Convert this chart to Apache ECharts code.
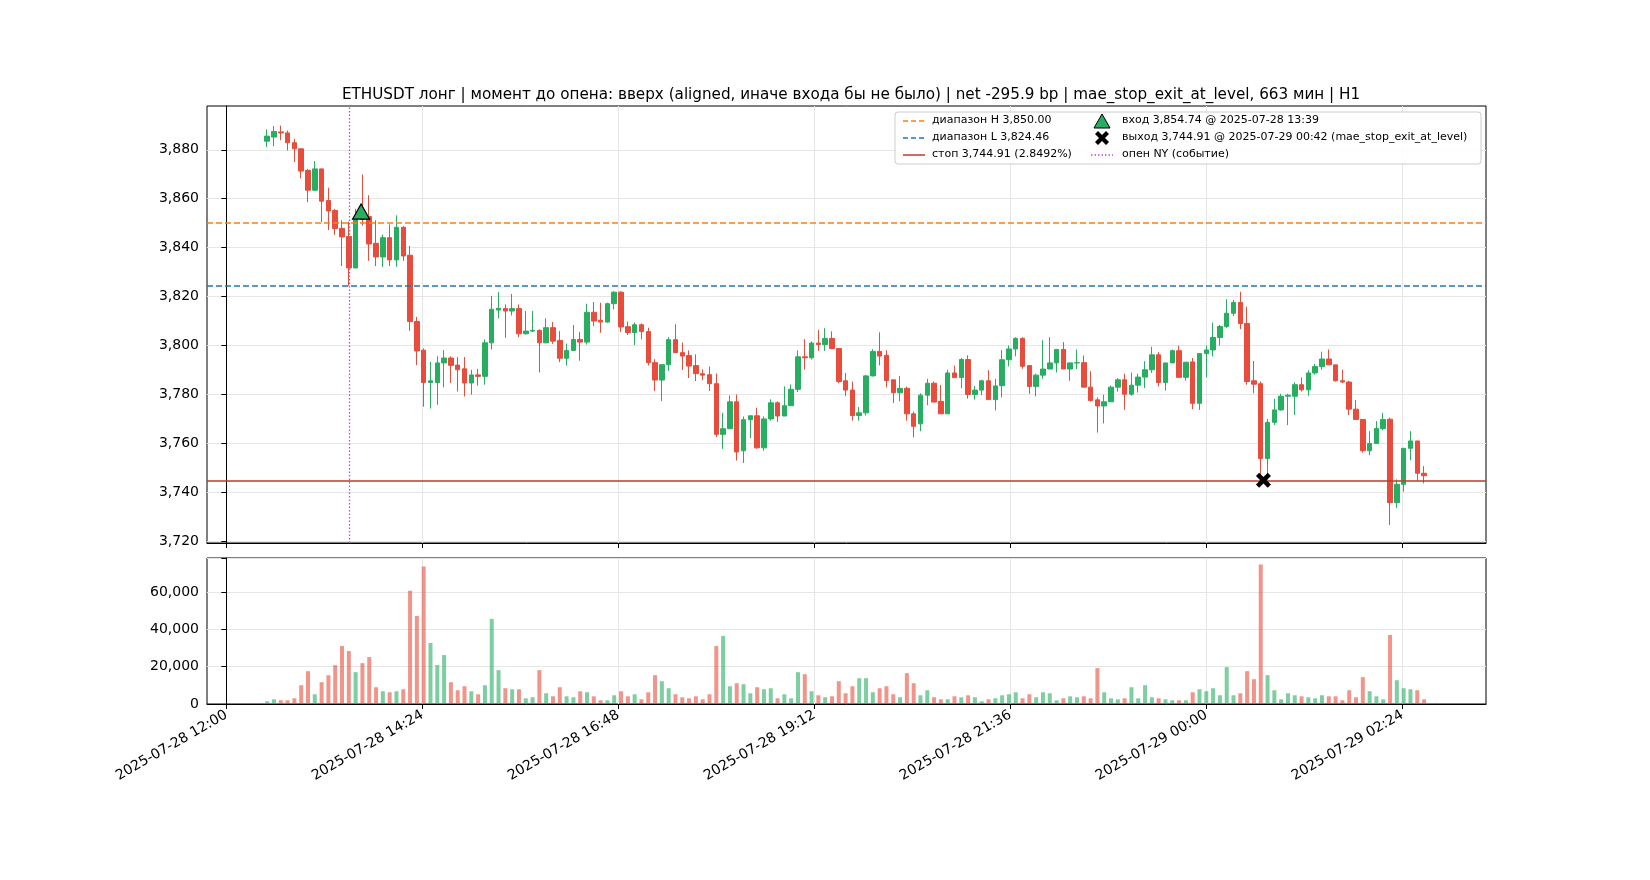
<!DOCTYPE html>
<html>
<head>
<meta charset="utf-8">
<script src="https://cdn.jsdelivr.net/npm/echarts@6/dist/echarts.min.js"></script>
<style>
html,body{margin:0;padding:0;background:#fff}
#chart{width:1650px;height:880px}
</style>
</head>
<body>
<div id="chart"></div>
<script>
// 5-минутные бары, время в минутах от 2025-07-28 12:00
var firstBar = 30, barStep = 5;
var opens = [3883.5,3885.2,3887.3,3886.9,3882.9,3880.4,3871.6,3863.5,3872.2,3859.3,3855.2,3847.9,3844.6,3831.7,3852.5,3852.7,3841.8,3836.2,3844.1,3835,
3848.3,3836.9,3809.8,3798.1,3784.9,3784.9,3792.9,3794.9,3792,3790.5,3784.7,3788,3787.4,3801.1,3814.5,3815.1,3814.1,3815.1,3804.8,3805.9,
3806.2,3801.1,3807.3,3802.1,3794.8,3798,3802.5,3801.4,3813.6,3810.3,3809.6,3817.1,3821.8,3807.7,3805.3,3808.5,3805.7,3793,3785.9,3792.2,
3802.4,3797.1,3795.9,3791.8,3788.5,3788.1,3784.4,3763.7,3766,3777,3757,3769.7,3771.3,3758.2,3770,3776.6,3771.2,3775.4,3782.1,3795.4,
3795,3801,3800.4,3802.9,3798.8,3785.6,3781.8,3771.4,3772.5,3787.6,3797.6,3796,3786,3780.7,3782.5,3772.1,3768,3779.7,3784.6,3777.2,
3772.1,3788.8,3786.9,3794.3,3780,3781.8,3785.6,3777.9,3783.6,3794.2,3798.6,3802.9,3791.8,3783.3,3787.9,3790.4,3792.9,3798.4,3790.4,3792.9,
3793,3783,3777.8,3775.3,3777,3783,3786,3780.1,3783.8,3787.1,3790.1,3796.2,3784.9,3792.9,3797.9,3787,3793.3,3776.4,3796.7,3798.2,
3803.3,3807.8,3813.2,3817.6,3809,3785.6,3784.4,3753.8,3768.6,3773.7,3779.3,3779.3,3784,3781.9,3788.8,3791.4,3794.5,3792.1,3785.6,3785.1,
3774,3769.8,3757,3760,3766.1,3769.9,3735.8,3743.3,3758,3761,3747.8];
var closes = [3885.6,3887.5,3886.9,3882.9,3880.4,3871.3,3863.5,3872.2,3859,3855,3847.8,3844.4,3831.7,3851.6,3851.5,3841.5,3836.2,3844.1,3835,3848.3,
3836.6,3809.8,3797.8,3784.9,3785.6,3792.9,3794.9,3791.9,3790.1,3784.7,3788,3787.4,3801.1,3814.8,3815.2,3814.1,3815.1,3804.8,3805.9,3806.2,
3801.1,3807.3,3801.8,3794.8,3798,3802.5,3801.4,3813.6,3810,3809.6,3817.1,3821.8,3807.6,3805.3,3808.5,3805.7,3793,3785.9,3792.2,3802.4,
3797.1,3795.7,3791.6,3788.5,3787.9,3784.4,3763.7,3766,3777,3756.5,3769.7,3771.3,3758.2,3770,3776.6,3771.2,3775.4,3782.1,3795.4,3795,
3801,3800.4,3802.9,3798.8,3785.3,3781.8,3771.4,3772.5,3787.6,3797.6,3795.7,3785.7,3780.7,3782.5,3772.1,3767,3779.7,3784.6,3776.9,3772.1,
3788.8,3786.9,3794.3,3780,3781.8,3785.6,3777.9,3783.5,3794.2,3798.6,3802.9,3791.5,3783.3,3787.9,3790.4,3792.9,3798.4,3790.4,3792.9,3793,
3783,3777.5,3775.3,3777,3783,3786,3780.1,3783.8,3787.1,3790.1,3796.2,3784.9,3792.9,3797.9,3787,3793.2,3776.4,3796.7,3798.2,3803.3,
3807.8,3813.2,3817.6,3809,3785.3,3784.2,3753.8,3768.6,3773.7,3779.3,3779.7,3784,3781.9,3788.8,3791.4,3794.5,3792.1,3785.6,3785.1,3774,
3769.8,3757,3760,3766.1,3769.8,3735.8,3743.3,3758,3761,3747.8,3746.8];
var lows = [3881.1,3881.5,3883.9,3879.7,3875,3868.3,3858.6,3863.1,3850.5,3847.2,3845.2,3832.5,3824.4,3831.7,3849,3834.6,3832.5,3832.1,3832.5,3832.2,
3834.6,3806,3792,3775,3774.3,3775.8,3782.9,3784.7,3781.2,3779.2,3779.9,3783.6,3784,3798.4,3811.1,3803.2,3812.3,3803.4,3804.5,3805.5,
3789,3801.1,3800.7,3793.2,3791.8,3797.7,3793.8,3800.4,3807.9,3805.2,3809.3,3814.8,3805.5,3804.3,3800.2,3802.5,3791.9,3781.4,3777.3,3789.6,
3797.1,3790,3786.7,3785.5,3785.8,3781.4,3762.6,3757.8,3766,3753,3752,3762.2,3757.8,3757,3769.3,3768.8,3771.2,3775.4,3781,3790.2,
3794.3,3797.8,3797.8,3798.5,3784.6,3779.3,3769.3,3769.3,3771.4,3787.4,3791.9,3782.9,3776.5,3777.2,3769.3,3762.5,3765,3775.6,3776.9,3772.1,
3772.1,3786.9,3782.5,3778.3,3777.9,3779.7,3777.9,3773.5,3778.8,3791.5,3795.6,3790.5,3780.3,3779.2,3786.4,3790.4,3789,3790.4,3785.6,3790.4,
3783,3777.1,3764.4,3768.2,3777,3781.2,3773.7,3779.5,3780.8,3782.6,3788.8,3783.3,3781.6,3792.9,3787,3785.6,3774,3773.7,3787,3795.5,
3800,3807.1,3812.1,3806.7,3784,3780.5,3745.2,3745.2,3767.5,3773.4,3767.5,3771.6,3781.2,3779.5,3788.1,3790.1,3792.1,3785.3,3784.7,3771.6,
3769.6,3756.2,3755.2,3760,3765.4,3726.7,3733.7,3740.3,3753.2,3744.8,3743.7];
var highs = [3888.3,3889.7,3889.9,3887.9,3884.5,3880.4,3872.2,3875.4,3872.2,3864.5,3855.9,3851.2,3850.6,3855.9,3869.9,3861.4,3851.2,3845.4,3849.5,3853.2,
3848.8,3840.7,3811.7,3798.8,3793.3,3795.6,3798.1,3795.6,3795.3,3795.3,3790.1,3790.5,3802.5,3820.3,3821.9,3816.8,3821.1,3816.8,3814.1,3814.1,
3806.6,3811.1,3809.6,3805.9,3800.8,3808.4,3805.5,3817.1,3817.8,3817.5,3817.5,3822.2,3822.2,3809.8,3809.4,3809,3807.3,3794.4,3792.2,3803.4,
3808.7,3801.2,3798,3796.4,3790.3,3791.4,3788.6,3772.5,3779.6,3780,3771,3771.3,3774.6,3771,3778,3777.2,3783.3,3784.1,3798,3802.6,
3801.7,3806.4,3807.1,3805.8,3798.8,3788.8,3785.3,3774.9,3788,3798.5,3805.4,3798.1,3786,3787.6,3783.2,3773,3780.5,3786.4,3785.3,3783.9,
3790.1,3791.8,3794.9,3796,3783.5,3786,3789.9,3786.4,3798.1,3800,3803.4,3803.4,3791.8,3788.5,3802.1,3803.4,3798.4,3801.4,3792.9,3798.4,
3795.9,3789.5,3778.8,3779.9,3783.6,3786.7,3788.5,3789,3788.5,3793.6,3799.5,3797.3,3792.9,3798.4,3800,3793.2,3794.9,3796.7,3800,3809.4,
3808.4,3818.9,3818.6,3822,3815.9,3793.7,3785.3,3770,3778.2,3780.3,3780.3,3785,3787,3789.9,3792.5,3797.5,3798.4,3792.1,3790.1,3785.6,
3777.7,3769.8,3765,3769.1,3772.5,3770.5,3745.3,3758,3765,3761,3750.7];
var volumes = [1440,2500,2000,2000,3050,10060,17600,5200,11700,15450,20850,31100,28400,17070,21900,25160,8990,6830,6290,6830,
7900,60740,47260,73680,32700,20850,26240,11680,7370,9520,6830,5210,10060,45640,18150,8450,7900,7900,3050,3600,
18150,5750,4130,8990,4130,3600,6830,6290,4130,1980,1980,4670,6830,4130,5210,2520,6290,15450,12220,8450,
5210,3600,3050,4130,2520,5210,31090,36480,9520,11140,10600,5750,8990,7900,8450,3050,5210,3050,17070,15990,
6830,4670,3600,4130,12220,5750,9520,13840,13840,6290,8450,9520,5210,3600,16530,11140,4670,7370,3600,2520,
2520,4130,3600,4670,3600,1440,2520,3050,4670,5210,6290,3050,5210,3600,6290,5750,1980,3050,4130,3600,
4130,3050,19230,6290,3050,2520,3050,8990,3050,10060,3600,3050,2520,1980,1980,1980,6290,7900,6830,8450,
4670,19770,4670,5750,17610,13300,74750,15450,7370,2520,5750,4670,4130,3600,3050,4670,4130,4130,1980,7370,
3600,14380,6830,4130,2520,37020,12760,8450,7900,7370,2520];
var tickMinutes = [0,144,288,432,576,720,864];
var priceTicks = [3720,3740,3760,3780,3800,3820,3840,3860,3880];
var volTicks = [0,20000,40000,60000];
var levelHigh = 3850.00, levelLow = 3824.46, stopLevel = 3744.91;
var nyOpenMin = 90;
var entryMin = 99, entryPrice = 3854.74;
var exitMin = 762, exitPrice = 3744.91;

var GREEN = '#27ae60', RED = '#e74c3c';
var FONT = 'DejaVu Sans';

function tickLabel(v){
	var t = 720 + v;
	var day = t >= 1440 ? 29 : 28;
	t = t % 1440;
	var h = Math.floor(t/60), m = t % 60;
	return '2025-07-' + day + ' ' + (h<10?'0':'') + h + ':' + (m<10?'0':'') + m;
}

var candleData = [], volData = [];
for (var i = 0; i < opens.length; i++) {
	var x = firstBar + barStep*i;
	var up = closes[i] >= opens[i];
	candleData.push([x, opens[i], closes[i], lows[i], highs[i]]);
	volData.push({value:[x, volumes[i]], itemStyle:{color: up ? GREEN : RED, opacity:0.6}});
}

// крестик выхода
function crossPoints(cx, cy, s){
	var p = [[-7,-4],[-4,-7],[0,-3],[4,-7],[7,-4],[3,0],[7,4],[4,7],[0,3],[-4,7],[-7,4],[-3,0]];
	return p.map(function(q){ return [cx + q[0]*s, cy + q[1]*s]; });
}

var xMin = -14.2, xMax = 925.5;
var chart = echarts.init(document.getElementById('chart'));

var gridLine = {show:true, lineStyle:{color:'#e6e6e6', width:1}};
var xAxisBase = {
	type:'value', min:xMin, max:xMax,
	axisLine:{onZero:false, lineStyle:{color:'#000'}},
	splitLine:gridLine
};

// легенда рисуется вручную
var lx = 895, ly = 112;
var legendItems = [
	{type:'rect', shape:{x:lx, y:ly, width:586, height:52, r:3}, style:{fill:'rgba(255,255,255,0.85)', stroke:'#cccccc', lineWidth:1}, z:100},
	{type:'line', shape:{x1:lx+8, y1:ly+9, x2:lx+30, y2:ly+9}, style:{stroke:'#ff7f0e', lineWidth:1.5, lineDash:[5,3]}, z:101},
	{type:'text', x:lx+37, y:ly+3, style:{text:'диапазон H 3,850.00', font:'11px '+FONT, fill:'#000'}, z:101},
	{type:'line', shape:{x1:lx+8, y1:ly+26, x2:lx+30, y2:ly+26}, style:{stroke:'#1f77b4', lineWidth:1.5, lineDash:[5,3]}, z:101},
	{type:'text', x:lx+37, y:ly+20, style:{text:'диапазон L 3,824.46', font:'11px '+FONT, fill:'#000'}, z:101},
	{type:'line', shape:{x1:lx+8, y1:ly+43, x2:lx+30, y2:ly+43}, style:{stroke:'#c0392b', lineWidth:1.5}, z:101},
	{type:'text', x:lx+37, y:ly+37, style:{text:'стоп 3,744.91 (2.8492%)', font:'11px '+FONT, fill:'#000'}, z:101},
	{type:'polygon', shape:{points:[[lx+207,ly+2],[lx+199,ly+16],[lx+215,ly+16]]}, style:{fill:GREEN, stroke:'#000', lineWidth:1}, z:101},
	{type:'text', x:lx+227, y:ly+3, style:{text:'вход 3,854.74 @ 2025-07-28 13:39', font:'11px '+FONT, fill:'#000'}, z:101},
	{type:'polygon', shape:{points:crossPoints(lx+207, ly+26, 1)}, style:{fill:'#000'}, z:101},
	{type:'text', x:lx+227, y:ly+20, style:{text:'выход 3,744.91 @ 2025-07-29 00:42 (mae_stop_exit_at_level)', font:'11px '+FONT, fill:'#000'}, z:101},
	{type:'line', shape:{x1:lx+196, y1:ly+43, x2:lx+218, y2:ly+43}, style:{stroke:'#b44fd0', lineWidth:1.3, lineDash:[1.5,2]}, z:101},
	{type:'text', x:lx+227, y:ly+37, style:{text:'опен NY (событие)', font:'11px '+FONT, fill:'#000'}, z:101}
];

var option = {
	animation:false,
	backgroundColor:'#fff',
	title:{
		text:'ETHUSDT лонг | момент до опена: вверх (aligned, иначе входа бы не было) | net -295.9 bp | mae_stop_exit_at_level, 663 мин | H1',
		left:846, top:83, textAlign:'center',
		textStyle:{fontFamily:FONT, fontSize:15.2, fontWeight:'normal', color:'#000'}
	},
	grid:[
		{left:207, top:106, width:1279, height:437, show:true, borderColor:'#000', borderWidth:1, backgroundColor:'transparent'},
		{left:207, top:558, width:1279, height:146, show:true, borderColor:'#000', borderWidth:1, backgroundColor:'transparent'}
	],
	xAxis:[
		Object.assign({}, xAxisBase, {gridIndex:0,
			axisTick:{show:true, customValues:tickMinutes, length:5, lineStyle:{color:'#000'}},
			axisLabel:{show:false, customValues:tickMinutes},
			splitLine:gridLine}),
		Object.assign({}, xAxisBase, {gridIndex:1,
			axisTick:{show:true, customValues:tickMinutes, length:5, lineStyle:{color:'#000'}},
			axisLabel:{show:true, customValues:tickMinutes, rotate:30, formatter:tickLabel, margin:10,
				fontFamily:FONT, fontSize:14, color:'#000'},
			splitLine:gridLine})
	],
	yAxis:[
		{type:'value', gridIndex:0, min:3719.3, max:3897.9, scale:true,
			axisLine:{show:true, lineStyle:{color:'#000'}},
			axisTick:{show:true, customValues:priceTicks, length:5, lineStyle:{color:'#000'}},
			axisLabel:{customValues:priceTicks, fontFamily:FONT, fontSize:14, color:'#000', margin:8},
			splitLine:gridLine},
		{type:'value', gridIndex:1, min:0, max:78300, interval:20000,
			axisLine:{show:true, lineStyle:{color:'#000'}},
			axisTick:{show:true, length:5, lineStyle:{color:'#000'}},
			axisLabel:{customValues:volTicks, fontFamily:FONT, fontSize:14, color:'#000', margin:8},
			splitLine:gridLine}
	],
	series:[
		{type:'candlestick', xAxisIndex:0, yAxisIndex:0, barWidth:5,
			encode:{x:0, y:[1,2,3,4]},
			data:candleData,
			itemStyle:{color:GREEN, color0:RED, borderColor:GREEN, borderColor0:RED, borderWidth:1},
			markLine:{symbol:'none', silent:true, label:{show:false},
				data:[
					{yAxis:levelHigh, lineStyle:{color:'#ff7f0e', type:[6,3], width:1.5}},
					{yAxis:levelLow, lineStyle:{color:'#1f77b4', type:[6,3], width:1.5}},
					{yAxis:stopLevel, lineStyle:{color:'#c0392b', type:'solid', width:1.5}},
					{xAxis:nyOpenMin, lineStyle:{color:'#b44fd0', type:[1.5,2], width:1.3}}
				]}
		},
		{type:'scatter', xAxisIndex:0, yAxisIndex:0, z:10,
			data:[[entryMin, entryPrice]], symbol:'triangle', symbolSize:[17,15],
			itemStyle:{color:GREEN, borderColor:'#000', borderWidth:1.2, opacity:1}},
		{type:'scatter', xAxisIndex:0, yAxisIndex:0, z:10,
			data:[[exitMin, exitPrice]],
			symbol:'path://M-7,-4 L-4,-7 L0,-3 L4,-7 L7,-4 L3,0 L7,4 L4,7 L0,3 L-4,7 L-7,4 L-3,0 Z', symbolSize:15,
			itemStyle:{color:'#000', opacity:1}},
		{type:'bar', xAxisIndex:1, yAxisIndex:1, barWidth:4, data:volData}
	],
	graphic:legendItems
};
chart.setOption(option);
</script>
</body>
</html>
